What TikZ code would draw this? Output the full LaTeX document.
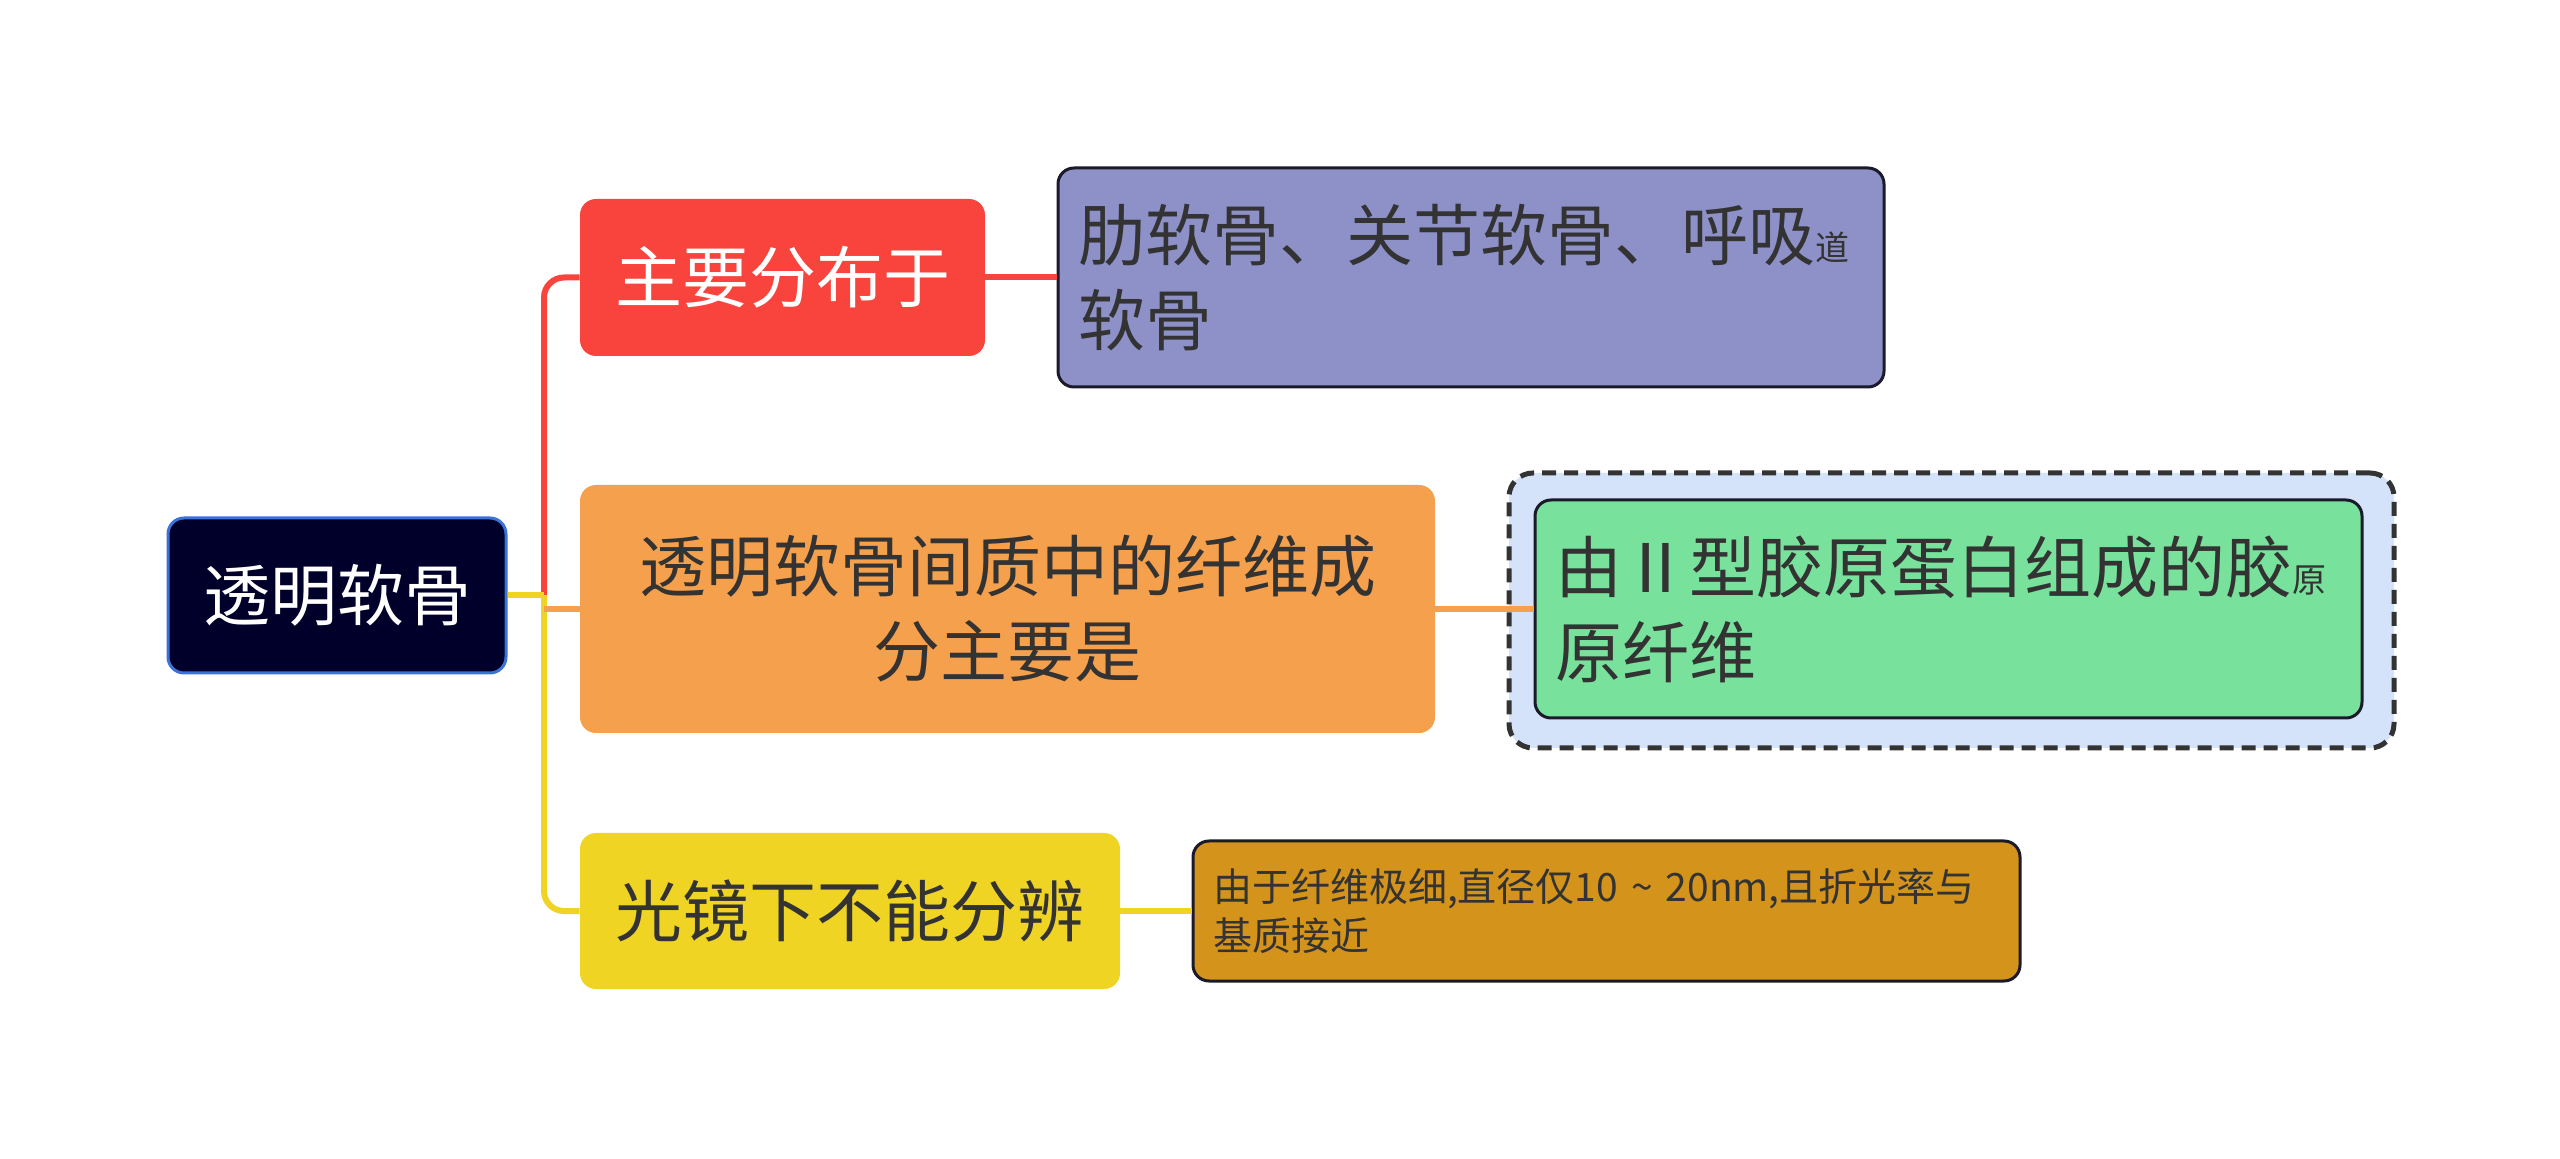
\documentclass[tikz,border=0pt]{standalone}
\usepackage{fontspec}
\setmainfont{Noto Sans CJK SC}
\usetikzlibrary{positioning}
\definecolor{rootfill}{HTML}{00002A}
\definecolor{rootline}{HTML}{3B72D9}
\definecolor{redfill}{HTML}{F9443D}
\definecolor{purplefill}{HTML}{8D91C8}
\definecolor{orangefill}{HTML}{F5A04C}
\definecolor{dashfill}{HTML}{D4E3FA}
\definecolor{dashline}{HTML}{333333}
\definecolor{greenfill}{HTML}{78E29D}
\definecolor{yellowfill}{HTML}{F0D423}
\definecolor{goldfill}{HTML}{D4931A}
\definecolor{leafline}{HTML}{1A1A2A}
\definecolor{textdark}{HTML}{333333}

\begin{document}
\begin{tikzpicture}[x=0.5pt, y=-0.5pt,
  box/.style={rectangle, rounded corners=8pt, inner sep=0pt, text=textdark,
    font=\fontsize{33.5}{42.5}\selectfont},
  leaf/.style={box, draw=leafline, line width=1.5pt, inner xsep=10pt, align=left},
  link/.style={line width=3pt, rounded corners=10pt}]
  \useasboundingbox (0,0) rectangle (2560,1159);

  % root and first level
  \node[box, fill=rootfill, draw=rootline, line width=1.5pt, text=white,
    minimum width=169pt, minimum height=77.5pt] (root) at (337,595.5) {透明软骨};
  \node[box, fill=redfill, text=white, minimum width=202.5pt, minimum height=78.5pt]
    (dist) at (782.5,277.5) {主要分布于};
  \node[box, fill=orangefill, align=center, minimum width=427.5pt, minimum height=124pt]
    (fiber) at (1007.5,609) {透明软骨间质中的纤维成\\分主要是};
  \node[box, fill=yellowfill, minimum width=270pt, minimum height=78pt]
    (optic) at (850,911) {光镜下不能分辨};

  % second level
  \node[leaf, fill=purplefill, text width=393pt, minimum height=109.5pt]
    (sites) at (1471,277.5) {肋软骨、关节软骨、呼吸{\fontsize{17}{17}\selectfont 道}\\软骨};
  \node[box, rounded corners=12pt, fill=dashfill, draw=dashline, line width=2.5pt,
    dash pattern=on 7pt off 4pt, minimum width=442.5pt, minimum height=137.5pt]
    (frame) at (1951.5,610.5) {};
  \node[leaf, fill=greenfill, text width=393.5pt, minimum height=109pt]
    (collagen) at (1948.5,609) {由Ⅱ型胶原蛋白组成的胶{\fontsize{17}{17}\selectfont 原}\\原纤维};
  \node[leaf, fill=goldfill, text width=393.5pt, minimum height=70pt,
    font=\fontsize{19.5}{24.5}\selectfont]
    (reason) at (1606.5,911) {由于纤维极细,直径仅10 \textasciitilde{} 20nm,且折光率与\\基质接近};

  \coordinate (trunk) at (544,595.5);
  \draw[link, draw=redfill] (trunk) |- (dist.west);
  \draw[link, draw=yellowfill] (trunk) |- (optic.west);
  \draw[link, draw=yellowfill] (root.east) -- (trunk);
  \draw[link, draw=orangefill] (trunk |- fiber.west) -- (fiber.west);
  \draw[link, draw=redfill] (dist.east) -- (sites.west);
  \draw[link, draw=orangefill] (fiber.east) -- (collagen.west);
  \draw[link, draw=yellowfill] (optic.east) -- (reason.west);
\end{tikzpicture}
\end{document}
